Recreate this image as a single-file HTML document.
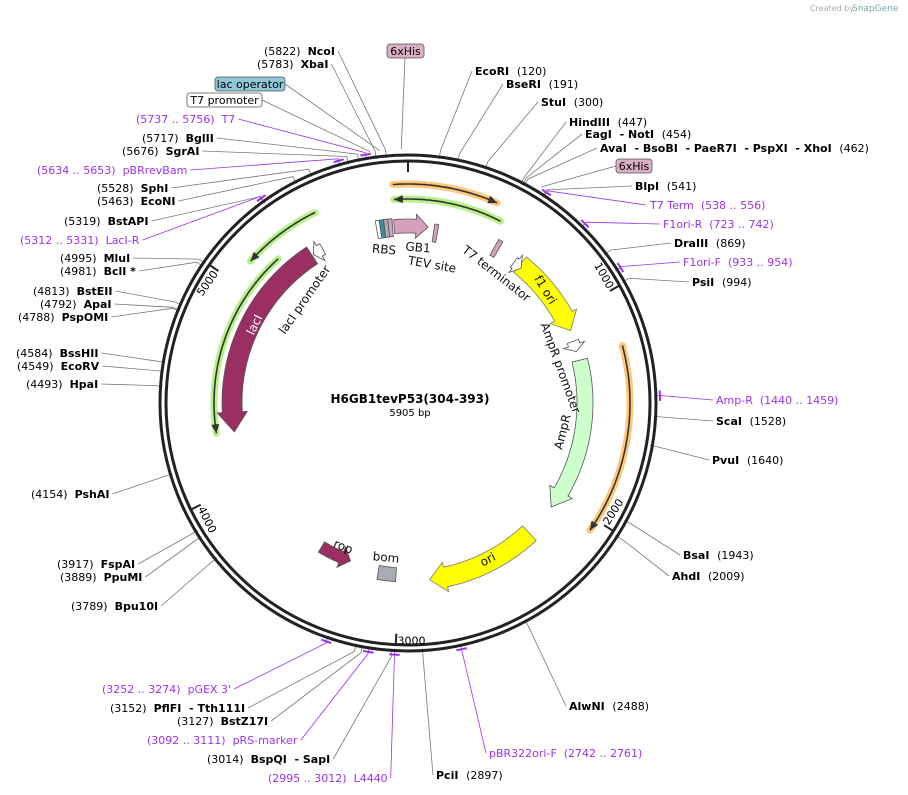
<!DOCTYPE html>
<html><head><meta charset="utf-8"><style>
body{margin:0;background:#fff}
svg{display:block;font-family:"DejaVu Sans","Liberation Sans",sans-serif;font-size:11px}
svg text{white-space:pre}
.b{font-weight:bold}
.p{fill:#9933ee}
</style></head><body>
<svg id="s" width="908" height="795" viewBox="0 0 908 795" xmlns="http://www.w3.org/2000/svg">
<text x="810" y="11" font-size="8" fill="#aaa">Created by</text><text x="852" y="11" font-size="9" fill="#7aa">SnapGene</text>
</svg>
<script>
var S=document.getElementById('s'),NS='http://www.w3.org/2000/svg';
var cx=408,cy=403,N=5905;
function el(t,a,txt){var e=document.createElementNS(NS,t);for(var k in a)e.setAttribute(k,a[k]);if(txt!=null)e.textContent=txt;S.appendChild(e);return e;}
function P(deg,r){var t=deg*Math.PI/180;return [cx+r*Math.sin(t),cy-r*Math.cos(t)];}
function A(pos){return pos/N*360;}
function arcPts(a1,a2,r,n){var o=[];n=n||40;for(var i=0;i<=n;i++){o.push(P(a1+(a2-a1)*i/n,r));}return o;}
function pstr(a){return a.map(function(p){return p[0].toFixed(1)+','+p[1].toFixed(1)}).join(' ');}
function band(a1,a2,r,w,fill,stroke,head){
 var dir=a2>a1?1:-1,hl=(head||14)/r*180/Math.PI,ab=a2-dir*hl;
 var o=arcPts(a1,ab,r+w/2),i=arcPts(ab,a1,r-w/2);
 var pts=o.concat([P(ab,r+w/2+5),P(a2,r),P(ab,r-w/2-5)]).concat(i);
 el('polygon',{points:pstr(pts),fill:fill,stroke:stroke||'#555','stroke-width':0.8});
}
function box(a1,a2,r,w,fill){var pts=arcPts(a1,a2,r+w/2,6).concat(arcPts(a2,a1,r-w/2,6));el('polygon',{points:pstr(pts),fill:fill,stroke:'#555','stroke-width':0.8});}
function thin(a1,a2,r,glow){
 var pts=arcPts(a1,a2,r);
 el('polyline',{points:pstr(pts),fill:'none',stroke:glow,'stroke-width':7,'stroke-linecap':'round'});
 el('polyline',{points:pstr(pts),fill:'none',stroke:'#333','stroke-width':1.6});
 var dir=a2>a1?1:-1,h=9/r*180/Math.PI,b=a2-dir*h;
 el('polygon',{points:pstr([P(b,r+4),P(a2,r),P(b,r-4)]),fill:'#333'});
}
var L=[
['(5822)','NcoI',5822,264,51,'L'],['(5783)','XbaI',5783,257,64,'L'],
['(5737 .. 5756)','T7',5746,136,119,'LP'],['(5717)','BglII',5717,142,138,'L'],['(5676)','SgrAI',5676,122,151,'L'],
['(5634 .. 5653)','pBRrevBam',5643,37,170,'LP'],['(5528)','SphI',5528,97,188,'L'],['(5463)','EcoNI',5463,97,201,'L'],
['(5319)','BstAPI',5319,64,221,'L'],['(5312 .. 5331)','LacI-R',5321,20,240,'LP'],['(4995)','MluI',4995,60,258,'L'],
['(4981)','BclI *',4981,60,271,'L'],['(4813)','BstEII',4813,33,291,'L'],['(4792)','ApaI',4792,40,304,'L'],
['(4788)','PspOMI',4788,18,317,'L'],['(4584)','BssHII',4584,16,353,'L'],['(4549)','EcoRV',4549,17,366,'L'],
['(4493)','HpaI',4493,26,384,'L'],['(4154)','PshAI',4154,31,494,'L'],['(3917)','FspAI',3917,57,564,'L'],
['(3889)','PpuMI',3889,60,577,'L'],['(3789)','Bpu10I',3789,71,606,'L'],['(3252 .. 3274)',"pGEX 3'",3263,102,689,'LP'],
['(3152)','PflFI  - Tth111I',3152,110,708,'L'],['(3127)','BstZ17I',3127,177,721,'L'],['(3092 .. 3111)','pRS-marker',3101,147,740,'LP'],
['(3014)','BspQI  - SapI',3014,207,759,'L'],['(2995 .. 3012)','L4440',3003,268,778,'LP'],
['PciI','(2897)',2897,436,775,'R'],['pBR322ori-F','(2742 .. 2761)',2751,489,753,'RP'],['AlwNI','(2488)',2488,569,706,'R'],
['AhdI','(2009)',2009,672,576,'R'],['BsaI','(1943)',1943,683,555,'R'],['PvuI','(1640)',1640,712,460,'R'],
['ScaI','(1528)',1528,716,421,'R'],['Amp-R','(1440 .. 1459)',1449,716,400,'RP'],['PsiI','(994)',994,692,282,'R'],
['F1ori-F','(933 .. 954)',943,683,262,'RP'],['DraIII','(869)',869,674,243,'R'],['F1ori-R','(723 .. 742)',732,663,224,'RP'],
['T7 Term','(538 .. 556)',547,650,205,'RP'],['BlpI','(541)',541,635,186,'R'],
['AvaI  - BsoBI  - PaeR7I  - PspXI  - XhoI','(462)',462,600,148,'R'],['EagI  - NotI','(454)',454,585,134,'R'],
['HindIII','(447)',447,569,122,'R'],['StuI','(300)',300,541,102,'R'],['BseRI','(191)',191,506,84,'R'],['EcoRI','(120)',120,475,71,'R']
];
var tx=[];
L.forEach(function(d){
 var pur=d[5].indexOf('P')>0,left=d[5][0]=='L';
 var t=el('text',{x:d[3],y:d[4]+4});
 var s1=document.createElementNS(NS,'tspan'),s2=document.createElementNS(NS,'tspan');
 s1.textContent=d[0]+'  ';s2.textContent=d[1];
 if(!pur){ if(left)s2.setAttribute('class','b');else s1.setAttribute('class','b');}
 t.appendChild(s1);t.appendChild(s2);if(pur)t.setAttribute('class','p');
 tx.push([t,d,pur,left]);
});
tx.forEach(function(q){
 var t=q[0],d=q[1],bb=t.getBBox(),lx=q[3]?bb.x+bb.width+3:bb.x-3,ly=d[4];
 var a=A(d[2]),p=P(a,254),p2=P(a,246);
 el('polyline',{points:pstr([[lx,ly],p,p2]),fill:'none',stroke:q[2]?'#9933ee':'#777','stroke-width':0.8});
 if(q[2]){el('polyline',{points:pstr(arcPts(a-1.2,a+1.2,252,4)),fill:'none',stroke:'#9933ee','stroke-width':2});}
});
function tag(x,y,w,txt,fill,lx,ly,pos){
 el('line',{x1:lx,y1:ly,x2:P(A(pos),254)[0],y2:P(A(pos),254)[1],stroke:'#777','stroke-width':0.8});
 el('rect',{x:x,y:y,width:w,height:14,rx:3,fill:fill,stroke:'#555','stroke-width':0.8});
 el('text',{x:x+w/2,y:y+11,'text-anchor':'middle'},txt);
}
tag(387,44,37,'6xHis','#dbaec6',405,58,5880);
tag(215,77,70,'lac operator','#8ec8d8',285,84,5800);
tag(187,93,75,'T7 promoter','#fff',262,100,5765);
tag(616,159,36,'6xHis','#dbaec6',616,166,520);
el('circle',{cx:cx,cy:cy,r:248,fill:'none',stroke:'#222','stroke-width':3});
el('circle',{cx:cx,cy:cy,r:242,fill:'none',stroke:'#222','stroke-width':3});
[0,1000,2000,3000,4000,5000].forEach(function(v){var a=A(v),p1=P(a,241),p2=P(a,231);
 el('line',{x1:p1[0],y1:p1[1],x2:p2[0],y2:p2[1],stroke:'#222','stroke-width':2});
 if(v){
 if(v==3000){var q=P(a,247);el('text',{x:q[0]+2,y:q[1]-5},'3000');}
 else{var rot=a<=90?a:(a<270?a-180:a-360);var q=P(a-4,233);
 el('text',{x:q[0],y:q[1],'text-anchor':'middle','dominant-baseline':'middle',transform:'rotate('+rot+' '+q[0]+' '+q[1]+')'},String(v));}}
});
thin(-4,24,219,'#ffc77a');
thin(27,-4,204,'#b8f08a');
thin(334,312,212,'#b8f08a');
thin(318,261,194,'#b8f08a');
thin(75,125,222,'#ffc77a');
band(327,260.5,176,20,'#9b2f63','#555',20);
band(39,66,178,20,'#ffff00','#777',16);
band(137,173,178,20,'#ffff00','#777',16);
band(76,126,177,16,'#ccffcc','#555',18);
band(331,327.5,176,12,'#fff','#555',7);
band(69.5,73,176,12,'#fff','#555',7);
band(37,40,176,12,'#fff','#555',7);
box(184,190,172,14,'#a8adb5');
band(211,200,168,12,'#9b2f63','#555',10);
box(-10.2,-9,176,18,'#fff');box(-9,-7.6,176,18,'#3b8fa0');box(-7.6,-6.3,176,18,'#a8adb5');box(-6.3,-5,176,18,'#d4a0bc');
band(-4.5,6.5,177,14,'#d4a0bc','#555',12);
box(8.5,9.8,172,18,'#d4a0bc');
box(29,30.5,178,18,'#d4a0bc');
function rt(x,y,r,t,c){el('text',{x:x,y:y,'text-anchor':'middle','dominant-baseline':'middle',fill:c||'#111',transform:'rotate('+r+' '+x+' '+y+')','font-size':'12px'},t);}
rt(255,325,-64,'lacI','#fff');rt(305,300,-55,'lacI promoter');rt(545,290,58,'f1 ori');
rt(560,368,70,'AmpR promoter');rt(563,432,-76,'AmpR');rt(488,560,-28,'ori');
rt(496,274,38,'T7 terminator');rt(432,265,10,'TEV site');rt(384,250,5,'RBS');rt(418,248,5,'GB1');
rt(343,547,22,'rop');rt(386,558,6,'bom');
el('text',{x:410,y:403,'text-anchor':'middle',class:'b','font-size':'12px'},'H6GB1tevP53(304-393)');
el('text',{x:410,y:416,'text-anchor':'middle','font-size':'10px'},'5905 bp');
</script>
</body></html>
